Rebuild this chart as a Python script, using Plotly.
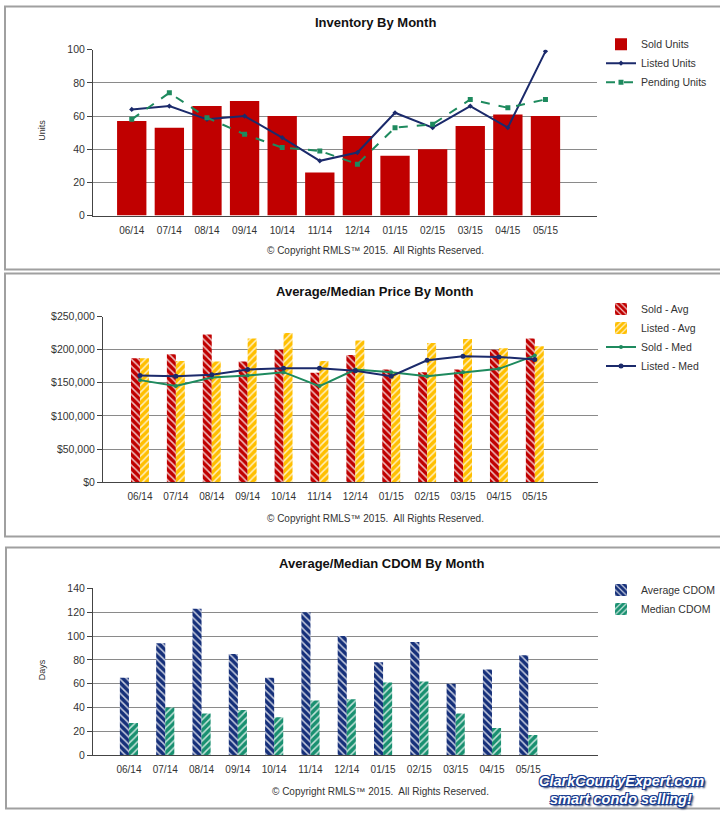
import plotly.graph_objects as go

W, H = 720, 815

months = ["06/14", "07/14", "08/14", "09/14", "10/14", "11/14",
          "12/14", "01/15", "02/15", "03/15", "04/15", "05/15"]

# Chart 1 - Inventory
sold_units = [57, 53, 66, 69, 60, 26, 48, 36, 40, 54, 61, 60]
listed_units = [64, 66, 58, 60, 47, 33, 38, 62, 53, 66, 53, 99]
pending_units = [58, 74, 59, 49, 41, 39, 31, 53, 55, 70, 65, 70]

# Chart 2 - Prices
sold_avg = [187000, 193000, 223000, 182000, 200000, 165000,
            192000, 170000, 166000, 170000, 200000, 217000]
listed_avg = [187000, 183000, 182000, 217000, 225000, 183000,
              214000, 165000, 210000, 216000, 202000, 205000]
sold_med = [154000, 145000, 158000, 161000, 166000, 145000,
            170000, 166000, 160000, 166000, 171000, 191000]
listed_med = [161000, 160000, 162000, 170000, 172000, 172000,
              168000, 160000, 184000, 190000, 189000, 185000]

# Chart 3 - CDOM
avg_cdom = [65, 94, 123, 85, 65, 120, 100, 78, 95, 60, 72, 84]
med_cdom = [27, 40, 35, 38, 32, 46, 47, 61, 62, 35, 23, 17]

FONT = "Liberation Sans, Arial, sans-serif"
RED = "#c00000"
NAVY = "#1b2a6b"
GREEN = "#1e8a5e"
GOLD = "#ffbf00"
NAVY2 = "#16307a"
GREEN2 = "#199070"
GRID = "#8a8a8a"
TXT = "#333333"


def px(x):
    return x / W


def py(y):
    # compensates the slight vertical squeeze seen in the captured page
    ys = (y - 5.3) / 0.9858
    ys = min(max(ys, 0.5), H - 0.5)
    return 1 - ys / H


fig = go.Figure()

# ---- Chart 1
fig.add_trace(go.Bar(x=months, y=sold_units, name="Sold Units",
                     marker=dict(color=RED, line=dict(width=0)), width=0.78,
                     xaxis="x", yaxis="y", legend="legend"))
fig.add_trace(go.Scatter(x=months, y=listed_units, name="Listed Units",
                         mode="lines+markers", line=dict(color=NAVY, width=2),
                         marker=dict(size=4, color=NAVY, symbol="diamond"),
                         xaxis="x", yaxis="y", legend="legend"))
fig.add_trace(go.Scatter(x=months, y=pending_units, name="Pending Units",
                         mode="lines+markers",
                         line=dict(color=GREEN, width=2, dash="dash"),
                         marker=dict(size=5, color=GREEN, symbol="square"),
                         xaxis="x", yaxis="y", legend="legend"))

# ---- Chart 2
fig.add_trace(go.Bar(x=months, y=sold_avg, name="Sold - Avg",
                     marker=dict(color=RED, line=dict(width=0),
                                 pattern=dict(shape="\\", fillmode="overlay",
                                              fgcolor="white", fgopacity=0.75,
                                              size=5, solidity=0.3)),
                     width=0.25, offset=-0.25,
                     xaxis="x2", yaxis="y2", legend="legend2"))
fig.add_trace(go.Bar(x=months, y=listed_avg, name="Listed - Avg",
                     marker=dict(color=GOLD, line=dict(width=0),
                                 pattern=dict(shape="/", fillmode="overlay",
                                              fgcolor="white", fgopacity=0.75,
                                              size=5, solidity=0.3)),
                     width=0.25, offset=0,
                     xaxis="x2", yaxis="y2", legend="legend2"))
fig.add_trace(go.Scatter(x=months, y=sold_med, name="Sold - Med",
                         mode="lines+markers", line=dict(color=GREEN, width=2),
                         marker=dict(size=4, color=GREEN),
                         xaxis="x2", yaxis="y2", legend="legend2"))
fig.add_trace(go.Scatter(x=months, y=listed_med, name="Listed - Med",
                         mode="lines+markers", line=dict(color=NAVY, width=2),
                         marker=dict(size=5, color=NAVY),
                         xaxis="x2", yaxis="y2", legend="legend2"))

# ---- Chart 3
fig.add_trace(go.Bar(x=months, y=avg_cdom, name="Average CDOM",
                     marker=dict(color=NAVY2, line=dict(width=0),
                                 pattern=dict(shape="\\", fillmode="overlay",
                                              fgcolor="white", fgopacity=0.75,
                                              size=5, solidity=0.3)),
                     width=0.25, offset=-0.25,
                     xaxis="x3", yaxis="y3", legend="legend3"))
fig.add_trace(go.Bar(x=months, y=med_cdom, name="Median CDOM",
                     marker=dict(color=GREEN2, line=dict(width=0),
                                 pattern=dict(shape="/", fillmode="overlay",
                                              fgcolor="white", fgopacity=0.75,
                                              size=5, solidity=0.3)),
                     width=0.25, offset=0,
                     xaxis="x3", yaxis="y3", legend="legend3"))

tickfont = dict(family=FONT, size=10.5, color=TXT)
xtickfont = dict(family=FONT, size=10, color=TXT)


def xax(d0, d1, r0, r1, anchor):
    return dict(domain=[px(d0), px(d1)], range=[r0, r1], anchor=anchor,
                type="category", showgrid=False, showline=True,
                linecolor="#444", linewidth=1, ticks="", tickfont=xtickfont,
                ticklabelstandoff=5, fixedrange=True, zeroline=False)


def yax(top, bottom, r1, dt, anchor, **kw):
    d = dict(domain=[py(bottom), py(top)], range=[0, r1], dtick=dt,
             anchor=anchor, showgrid=True, gridcolor=GRID, gridwidth=1,
             showline=True, linecolor="#444", linewidth=1, ticks="outside",
             ticklen=5, tickcolor="#444", tickfont=tickfont, zeroline=False,
             fixedrange=True)
    d.update(kw)
    return d


def leg(x, y):
    return dict(x=px(x), y=py(y), xanchor="left", yanchor="top",
                font=dict(family=FONT, size=10.5, color=TXT),
                bgcolor="rgba(0,0,0,0)", itemwidth=30, tracegroupgap=0)


shapes = []
for (x0, y0, y1) in [(5, 5, 269), (5, 273, 536), (6, 547, 810)]:
    shapes.append(dict(type="rect", xref="paper", yref="paper",
                       x0=px(x0), x1=px(724), y0=py(y1), y1=py(y0),
                       line=dict(color="#a0a0a0", width=2),
                       fillcolor="rgba(0,0,0,0)", layer="below"))

annos = []
for (txt, x, y) in [("Inventory By Month", 375, 22),
                    ("Average/Median Price By Month", 375, 291),
                    ("Average/Median CDOM By Month", 381, 563)]:
    annos.append(dict(text="<b>" + txt + "</b>", x=px(x), y=py(y),
                      xref="paper", yref="paper", showarrow=False,
                      xanchor="center", yanchor="middle",
                      font=dict(family=FONT, size=13, color="#111")))
for (x, y) in [(375, 250), (375, 518), (380, 791)]:
    annos.append(dict(text="© Copyright RMLS™ 2015.  All Rights Reserved.",
                      x=px(x), y=py(y), xref="paper", yref="paper",
                      showarrow=False, xanchor="center", yanchor="middle",
                      font=dict(family=FONT, size=10, color=TXT)))
for (txt, y) in [("Units", 130), ("Days", 670)]:
    annos.append(dict(text=txt, x=px(42), y=py(y), xref="paper",
                      yref="paper", showarrow=False, textangle=-90,
                      xanchor="center", yanchor="middle",
                      font=dict(family=FONT, size=9, color=TXT)))

shadow = ("-1px -1px 0 #163a8f, 1px -1px 0 #163a8f, -1px 1px 0 #163a8f, "
          "1px 1px 0 #163a8f, 2px 2px 2px #0b1e52")
for (txt, y) in [("ClarkCountyExpert.com", 781), ("smart condo selling!", 799)]:
    annos.append(dict(text="<b><i>" + txt + "</i></b>", x=px(621), y=py(y),
                      xref="paper", yref="paper", showarrow=False,
                      xanchor="center", yanchor="middle",
                      font=dict(family=FONT, size=14.5, color="white",
                                shadow=shadow)))

fig.update_layout(
    width=W, height=H, margin=dict(l=0, r=0, t=0, b=0),
    paper_bgcolor="white", plot_bgcolor="white",
    font=dict(family=FONT, color=TXT),
    barmode="overlay", showlegend=True,
    xaxis=xax(93, 597, -1.03, 12.37, "y"),
    yaxis=yax(49, 215, 100, 20, "x"),
    xaxis2=xax(103, 598, -1.03, 12.76, "y2"),
    yaxis2=yax(316, 481.7, 250000, 50000, "x2", tickprefix="$",
               tickformat=",d"),
    xaxis3=xax(93, 598, -0.99, 12.92, "y3"),
    yaxis3=yax(588, 755, 140, 20, "x3"),
    legend=leg(601, 29),
    legend2=leg(601, 294),
    legend3=leg(601, 575),
    shapes=shapes, annotations=annos,
)

fig.write_html(
    "out.html",
    config=dict(displayModeBar=False, staticPlot=True),
    post_script=("document.documentElement.style.margin='0';"
                 "document.documentElement.style.overflow='hidden';"
                 "document.body.style.margin='0';"
                 "document.body.style.padding='0';"
                 "document.body.style.overflow='hidden';"),
)
